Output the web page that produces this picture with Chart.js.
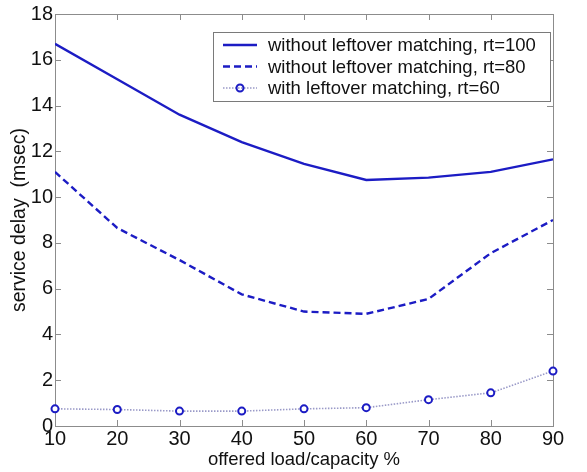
<!DOCTYPE html>
<html>
<head>
<meta charset="utf-8">
<script src="https://cdn.jsdelivr.net/npm/chart.js@4"></script>
<style>
  html, body { margin: 0; padding: 0; background: #fff; }
  #wrap { width: 587px; height: 472px; }
</style>
</head>
<body>
<div id="wrap"><canvas id="chart"></canvas></div>
<script>
// values
const loads = [10, 20, 30, 40, 50, 60, 70, 80, 90];
const rt100 = [16.7, 15.15, 13.6, 12.4, 11.45, 10.75, 10.85, 11.1, 11.65];
const rt80 = [11.1, 8.65, 7.25, 5.75, 5.0, 4.9, 5.55, 7.55, 9.0];
const leftover60 = [0.75, 0.72, 0.65, 0.65, 0.75, 0.8, 1.15, 1.45, 2.4];
const xTicks = [10, 20, 30, 40, 50, 60, 70, 80, 90];
const yTicks = [0, 2, 4, 6, 8, 10, 12, 14, 16, 18];

const blue = '#1c1cc4';
const font = 'Liberation Sans, Arial, sans-serif';

function pts(ys) { return loads.map((x, i) => ({x: x, y: ys[i]})); }

// matlab style frame + inward ticks
const frame = {
  id: 'frame',
  beforeDatasetsDraw(chart) {
    const {ctx, chartArea: a, scales} = chart;
    ctx.save();
    ctx.strokeStyle = '#8c8c8c';
    ctx.lineWidth = 1;
    ctx.strokeRect(a.left + 0.5, a.top + 0.5, a.right - a.left, a.bottom - a.top);
    ctx.beginPath();
    xTicks.forEach(v => {
      const px = Math.round(scales.x.getPixelForValue(v)) + 0.5;
      ctx.moveTo(px, a.bottom); ctx.lineTo(px, a.bottom - 6);
      ctx.moveTo(px, a.top); ctx.lineTo(px, a.top + 6);
    });
    yTicks.forEach(v => {
      const py = Math.round(scales.y.getPixelForValue(v)) + 0.5;
      ctx.moveTo(a.left, py); ctx.lineTo(a.left + 6, py);
      ctx.moveTo(a.right, py); ctx.lineTo(a.right - 6, py);
    });
    ctx.stroke();
    ctx.restore();
  }
};

// legend box inside the axes, top right
const boxLegend = {
  id: 'boxLegend',
  afterDatasetsDraw(chart) {
    const {ctx} = chart;
    const x0 = 213, y0 = 32, w = 337, h = 69;
    ctx.save();
    ctx.fillStyle = '#fff';
    ctx.fillRect(x0, y0, w, h);
    ctx.strokeStyle = '#7a7a7a';
    ctx.lineWidth = 1;
    ctx.strokeRect(x0 + 0.5, y0 + 0.5, w, h);
    ctx.font = '18.5px ' + font;
    ctx.textBaseline = 'middle';
    chart.data.datasets.forEach((ds, i) => {
      const y = y0 + 13 + i * 21.5;
      ctx.strokeStyle = ds.borderColor;
      ctx.lineWidth = ds.borderWidth;
      ctx.setLineDash(ds.borderDash || []);
      ctx.beginPath();
      ctx.moveTo(x0 + 10, y); ctx.lineTo(x0 + 44, y);
      ctx.stroke();
      ctx.setLineDash([]);
      if (ds.pointRadius > 0) {
        ctx.strokeStyle = ds.pointBorderColor;
        ctx.lineWidth = ds.pointBorderWidth;
        ctx.beginPath();
        ctx.arc(x0 + 27, y, ds.pointRadius, 0, Math.PI * 2);
        ctx.stroke();
      }
      ctx.fillStyle = '#111';
      ctx.fillText(ds.label, x0 + 55, y + 1);
    });
    ctx.restore();
  }
};

new Chart(document.getElementById('chart'), {
  type: 'line',
  data: {
    datasets: [
      {
        label: 'without leftover matching, rt=100',
        data: pts(rt100),
        borderColor: blue,
        borderWidth: 2.4,
        pointRadius: 0,
        tension: 0
      },
      {
        label: 'without leftover matching, rt=80',
        data: pts(rt80),
        borderColor: blue,
        borderWidth: 2.4,
        borderDash: [7, 4],
        pointRadius: 0,
        tension: 0
      },
      {
        label: 'with leftover matching, rt=60',
        data: pts(leftover60),
        borderColor: '#9a9ac8',
        borderWidth: 1.6,
        borderDash: [1.5, 1.5],
        pointRadius: 3.5,
        pointBorderWidth: 2,
        pointBorderColor: blue,
        pointBackgroundColor: '#fff',
        tension: 0,
        clip: false
      }
    ]
  },
  plugins: [frame, boxLegend],
  options: {
    responsive: true,
    maintainAspectRatio: false,
    animation: false,
    layout: { padding: { top: 14, right: 34, left: 0, bottom: 0 } },
    plugins: { legend: { display: false }, tooltip: { enabled: false } },
    scales: {
      x: {
        type: 'linear',
        min: 10, max: 90,
        afterFit: s => { s.height = 46; },
        afterBuildTicks: s => { s.ticks = xTicks.map(v => ({value: v})); },
        grid: { display: false, drawTicks: false },
        border: { display: false },
        ticks: { color: '#111', font: { family: font, size: 20 }, padding: 1, maxRotation: 0 },
        title: { display: true, text: 'offered load/capacity %', color: '#111', font: { family: font, size: 18.5 }, padding: { top: 0, bottom: 1 } }
      },
      y: {
        min: 0, max: 18,
        afterFit: s => { s.width = 55; },
        afterBuildTicks: s => { s.ticks = yTicks.map(v => ({value: v})); },
        grid: { display: false, drawTicks: false },
        border: { display: false },
        ticks: { color: '#111', font: { family: font, size: 20 }, padding: 2 },
        title: { display: true, text: 'service delay  (msec)', color: '#111', font: { family: font, size: 19.5 }, padding: { top: 8, bottom: 0 } }
      }
    }
  }
});
</script>
</body>
</html>
